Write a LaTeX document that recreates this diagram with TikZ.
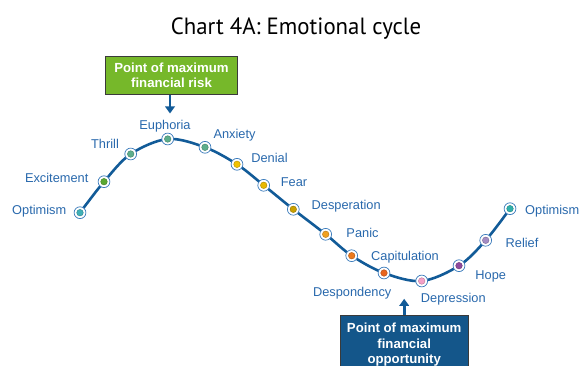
\documentclass[tikz,border=0pt]{standalone}
\usepackage{fontspec}
\setmainfont{Liberation Sans}
\newfontfamily\titlefont{PT Sans}
\usetikzlibrary{arrows.meta}

\definecolor{curveblue}{HTML}{125B98}
\definecolor{labelblue}{HTML}{2868AC}
\definecolor{ringblue}{HTML}{3C7CBC}
\definecolor{riskgreen}{HTML}{76B82A}
\definecolor{oppblue}{HTML}{14568A}
\definecolor{boxedge}{HTML}{3A3A3A}
\definecolor{cOptA}{HTML}{3FB0B8}
\definecolor{cExc}{HTML}{5AA832}
\definecolor{cThr}{HTML}{5CAE8C}
\definecolor{cDen}{HTML}{F2C200}
\definecolor{cFear}{HTML}{E8B800}
\definecolor{cDesp}{HTML}{C9A000}
\definecolor{cPan}{HTML}{F0A020}
\definecolor{cCap}{HTML}{EC7A1E}
\definecolor{cDsp}{HTML}{E8651E}
\definecolor{cDep}{HTML}{F4A0C8}
\definecolor{cHope}{HTML}{8E4A9E}
\definecolor{cRel}{HTML}{A48CC4}
\definecolor{cOptB}{HTML}{2FB0AC}

\tikzset{
  stage/.style={circle, draw=ringblue, line width=0.7pt, fill=white,
    minimum size=11.8pt, inner sep=0pt,
    path picture={\fill[#1, draw=#1!75!black, line width=0.4pt]
      (path picture bounding box.center) circle (3.3pt);}},
  stagelabel/.style={text=labelblue, font=\fontsize{12.8}{14}\selectfont,
    inner sep=0pt, anchor=center},
  callout/.style={draw=boxedge, line width=0.9pt, text=white, align=center,
    font=\fontsize{13.2}{15}\selectfont\bfseries, inner sep=0pt},
  pointer/.style={draw=curveblue, line width=2.8pt,
    -{Triangle[width=9.5pt,length=7pt]}},
}

\begin{document}
\begin{tikzpicture}[x=1pt, y=-1pt]
\useasboundingbox (0,0) rectangle (581,366);

% title
\node[inner sep=0pt, anchor=base] (title) at (296,34.3)
  {\scalebox{0.97}[1]{\titlefont\fontsize{23.5}{26}\selectfont Chart 4A: Emotional cycle}};

% stages along the cycle
\coordinate (p1)  at (80,212.7);
\coordinate (p2)  at (104,181.7);
\coordinate (p3)  at (130.7,154);
\coordinate (p4)  at (167.7,139);
\coordinate (p5)  at (205,147.3);
\coordinate (p6)  at (237,164.3);
\coordinate (p7)  at (263.7,185.3);
\coordinate (p8)  at (293.3,209.3);
\coordinate (p9)  at (325.7,234.3);
\coordinate (p10) at (351.7,255.7);
\coordinate (p11) at (384,273);
\coordinate (p12) at (421.7,281);
\coordinate (p13) at (459,265.7);
\coordinate (p14) at (485.7,240.3);
\coordinate (p15) at (510,208.7);

\draw[curveblue, line width=2.6pt, line cap=round]
  plot[smooth, tension=0.55] coordinates
  {(p1) (p2) (p3) (p4) (p5) (p6) (p7) (p8) (p9) (p10) (p11) (p12) (p13) (p14) (p15)};

\node[stage=cOptA] (s1)  at (p1)  {};
\node[stage=cExc]  (s2)  at (p2)  {};
\node[stage=cThr]  (s3)  at (p3)  {};
\node[stage=cThr]  (s4)  at (p4)  {};
\node[stage=cThr]  (s5)  at (p5)  {};
\node[stage=cDen]  (s6)  at (p6)  {};
\node[stage=cFear] (s7)  at (p7)  {};
\node[stage=cDesp] (s8)  at (p8)  {};
\node[stage=cPan]  (s9)  at (p9)  {};
\node[stage=cCap]  (s10) at (p10) {};
\node[stage=cDsp]  (s11) at (p11) {};
\node[stage=cDep]  (s12) at (p12) {};
\node[stage=cHope] (s13) at (p13) {};
\node[stage=cRel]  (s14) at (p14) {};
\node[stage=cOptB] (s15) at (p15) {};

% stage names
\node[stagelabel] (l1)  at (39.2,210.7)  {Optimism};
\node[stagelabel] (l2)  at (56.7,177.7)  {Excitement};
\node[stagelabel] (l3)  at (105,144.3)   {Thrill};
\node[stagelabel] (l4)  at (165,125.7)   {Euphoria};
\node[stagelabel] (l5)  at (234.5,135)   {Anxiety};
\node[stagelabel] (l6)  at (269.5,158.3) {Denial};
\node[stagelabel] (l7)  at (294,181.7)   {Fear};
\node[stagelabel] (l8)  at (346.2,205.7) {Desperation};
\node[stagelabel] (l9)  at (362.5,233.3) {Panic};
\node[stagelabel] (l10) at (405,256.7)   {Capitulation};
\node[stagelabel] (l11) at (352.2,293.3) {Despondency};
\node[stagelabel] (l12) at (453.3,299)   {Depression};
\node[stagelabel] (l13) at (490.7,276.7) {Hope};
\node[stagelabel] (l14) at (522,242.7)   {Relief};
\node[stagelabel] (l15) at (552.2,210.7) {Optimism};

% callouts
\node[callout, fill=riskgreen, minimum width=132pt, minimum height=37.6pt]
  (risk) at (171.5,75.5) {Point of maximum\\financial risk};
\coordinate (risktip) at (170,113.5);
\draw[pointer] (risk.south -| risktip) -- (risktip);

\node[callout, fill=oppblue, minimum width=128.3pt, minimum height=60pt,
  font=\fontsize{13.2}{15.5}\selectfont\bfseries]
  (opp) at (404.2,345) {Point of maximum\\financial\\opportunity};
\coordinate (opptip) at (404.2,298.8);
\draw[pointer] (opp.north) -- (opptip);
\end{tikzpicture}
\end{document}
